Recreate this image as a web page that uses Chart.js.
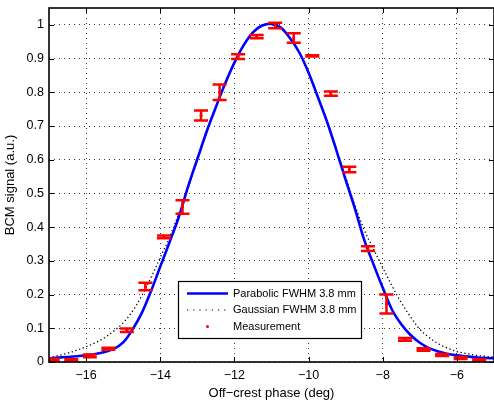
<!DOCTYPE html>
<html><head><meta charset="utf-8">
<style>html,body{margin:0;padding:0;background:#fff}#wrap{width:494px;height:401px;overflow:hidden}</style>
<script src="https://cdn.jsdelivr.net/npm/chart.js@4/dist/chart.umd.min.js"></script>
</head><body><div id="wrap"><canvas id="c" width="494" height="401"></canvas></div>
<script>
// ---- data ----
const curveX = [-17,-16.75,-16.5,-16.25,-16,-15.75,-15.5,-15.25,-15,-14.75,-14.5,-14.25,-14,-13.75,-13.5,-13.25,-13,-12.75,-12.5,-12.25,-12,-11.75,-11.5,-11.25,-11,-10.75,-10.5,-10.25,-10,-9.75,-9.5,-9.25,-9,-8.75,-8.5,-8.25,-8,-7.75,-7.5,-7.25,-7,-6.75,-6.5,-6.25,-6,-5.75,-5.5,-5.25,-5];
const parabolicY = [0.011,0.013,0.015,0.017,0.020,0.024,0.030,0.039,0.058,0.096,0.145,0.210,0.283,0.355,0.430,0.520,0.602,0.683,0.756,0.826,0.888,0.940,0.978,0.998,1.003,0.992,0.960,0.918,0.858,0.786,0.712,0.628,0.540,0.455,0.362,0.290,0.220,0.155,0.112,0.080,0.057,0.041,0.031,0.024,0.020,0.017,0.014,0.012,0.011];
const gaussianY = [0.012,0.019,0.026,0.035,0.045,0.057,0.072,0.092,0.116,0.150,0.196,0.250,0.310,0.370,0.440,0.515,0.598,0.680,0.755,0.826,0.888,0.940,0.978,0.998,1.000,0.990,0.960,0.918,0.858,0.788,0.714,0.632,0.548,0.465,0.392,0.335,0.280,0.226,0.176,0.134,0.097,0.073,0.054,0.041,0.031,0.025,0.020,0.017,0.014];
const measX = [-16.9,-16.4,-15.9,-15.4,-14.9,-14.4,-13.9,-13.4,-12.9,-12.4,-11.9,-11.4,-10.9,-10.4,-9.9,-9.4,-8.9,-8.4,-7.9,-7.4,-6.9,-6.4,-5.9,-5.4];
const measY = [0.007,0.005,0.018,0.039,0.094,0.224,0.371,0.460,0.731,0.800,0.906,0.965,0.998,0.961,0.908,0.796,0.571,0.336,0.172,0.067,0.037,0.021,0.012,0.005];
const measErr = [0.003,0.003,0.004,0.003,0.005,0.011,0.004,0.020,0.015,0.023,0.007,0.005,0.008,0.014,0.002,0.006,0.008,0.007,0.028,0.004,0.004,0.003,0.003,0.003];
const xTicks = [-16,-14,-12,-10,-8,-6];
const yTicks = [0,0.1,0.2,0.3,0.4,0.5,0.6,0.7,0.8,0.9,1];
const seriesLabels = ['Parabolic FWHM 3.8 mm','Gaussian FWHM 3.8 mm','Measurement'];
const xTitle = 'Off\u2212crest phase (deg)';
const yTitle = 'BCM signal (a.u.)';

const FONT = "'Liberation Sans', Arial, Helvetica, sans-serif";

const errorBars = {
  id: 'errorBars',
  afterDatasetsDraw(chart) {
    const ctx = chart.ctx, xs = chart.scales.x, ys = chart.scales.y, ca = chart.chartArea;
    ctx.save();
    ctx.beginPath(); ctx.rect(ca.left, ca.top, ca.right - ca.left, ca.bottom - ca.top); ctx.clip();
    ctx.strokeStyle = '#ff0000'; ctx.lineWidth = 2.5; ctx.lineCap = 'butt';
    const hw = 7;
    measX.forEach((xv, i) => {
      const px = xs.getPixelForValue(xv);
      const yt = ys.getPixelForValue(measY[i] + measErr[i]);
      const yb = ys.getPixelForValue(measY[i] - measErr[i]);
      ctx.beginPath();
      ctx.moveTo(px, yt); ctx.lineTo(px, yb);
      ctx.moveTo(px - hw, yt); ctx.lineTo(px + hw, yt);
      ctx.moveTo(px - hw, yb); ctx.lineTo(px + hw, yb);
      ctx.stroke();
    });
    ctx.restore();
  }
};

const frame = {
  id: 'frame',
  afterDraw(chart) {
    const ctx = chart.ctx, ca = chart.chartArea, xs = chart.scales.x, ys = chart.scales.y;
    ctx.save();
    ctx.strokeStyle = '#000'; ctx.lineWidth = 1.6;
    ctx.strokeRect(ca.left, ca.top, ca.right - ca.left, ca.bottom - ca.top);
    ctx.lineWidth = 1;
    ctx.beginPath();
    xs.ticks.forEach(t => {
      const p = Math.round(xs.getPixelForValue(t.value)) + 0.5;
      ctx.moveTo(p, ca.bottom); ctx.lineTo(p, ca.bottom - 5);
      ctx.moveTo(p, ca.top); ctx.lineTo(p, ca.top + 5);
    });
    ys.ticks.forEach(t => {
      const p = Math.round(ys.getPixelForValue(t.value)) + 0.5;
      ctx.moveTo(ca.left, p); ctx.lineTo(ca.left + 5, p);
      ctx.moveTo(ca.right, p); ctx.lineTo(ca.right - 5, p);
    });
    ctx.stroke();

    // legend box
    const x0 = ca.left + 129, y0 = ca.top + 273, w = 183, h = 57;
    ctx.fillStyle = '#fff'; ctx.fillRect(x0, y0, w, h);
    ctx.strokeStyle = '#000'; ctx.lineWidth = 1.2; ctx.strokeRect(x0 + 0.5, y0 + 0.5, w, h);
    const rows = [y0 + 12.5, y0 + 29, y0 + 45.5];
    const ds = chart.data.datasets;
    ctx.font = '11px ' + FONT; ctx.textBaseline = 'middle'; ctx.textAlign = 'left'; ctx.fillStyle = '#000';
    ctx.save(); ctx.strokeStyle = ds[0].borderColor; ctx.lineWidth = ds[0].borderWidth;
    ctx.beginPath(); ctx.moveTo(x0 + 9, rows[0]); ctx.lineTo(x0 + 50, rows[0]); ctx.stroke(); ctx.restore();
    ctx.save(); ctx.strokeStyle = ds[1].borderColor; ctx.lineWidth = 1.2; ctx.setLineDash([1.2, 5]);
    ctx.beginPath(); ctx.moveTo(x0 + 9, rows[1]); ctx.lineTo(x0 + 50, rows[1]); ctx.stroke(); ctx.restore();
    ctx.save(); ctx.fillStyle = '#ff0000'; ctx.beginPath(); ctx.arc(x0 + 29.5, rows[2], 1.5, 0, Math.PI * 2); ctx.fill(); ctx.restore();
    seriesLabels.forEach((s, i) => ctx.fillText(s, x0 + 55, rows[i]));
    ctx.restore();
  }
};

const toPts = (xa, ya) => xa.map((x, i) => ({x, y: ya[i]}));

new Chart(document.getElementById('c'), {
  type: 'scatter',
  data: {
    datasets: [
      { label: seriesLabels[0], data: toPts(curveX, parabolicY), showLine: true, borderColor: '#0000ff', borderWidth: 2.6, pointRadius: 0, tension: 0.35, order: 2 },
      { label: seriesLabels[1], data: toPts(curveX, gaussianY), showLine: true, borderColor: '#000000', borderWidth: 1.3, borderDash: [1.3, 2.6], pointRadius: 0, tension: 0.35, order: 3 },
      { label: seriesLabels[2], data: toPts(measX, measY), showLine: false, pointRadius: 1.5, pointBackgroundColor: '#ff0000', pointBorderWidth: 0, order: 1 }
    ]
  },
  options: {
    responsive: false, animation: false, devicePixelRatio: 1,
    layout: { autoPadding: false, padding: { left: 0, right: -3, top: 8, bottom: 0 } },
    plugins: { legend: { display: false }, tooltip: { enabled: false } },
    scales: {
      x: {
        type: 'linear', min: -17, max: -5,
        afterBuildTicks: a => { a.ticks = xTicks.map(v => ({value: v})); },
        afterFit: s => { s.height = 39; s.paddingLeft = 0; s.paddingRight = 0; },
        border: { display: false, dash: [1, 4] },
        grid: { color: '#333', lineWidth: 1, drawTicks: false },
        ticks: { color: '#000', padding: 6, font: { family: FONT, size: 12.5 }, callback: v => String(v).replace('-', '\u2212'), maxRotation: 0 },
        title: { display: true, text: xTitle, color: '#000', font: { family: FONT, size: 13 }, padding: { top: 3, bottom: 0 } }
      },
      y: {
        type: 'linear', min: 0, max: 1.05,
        afterBuildTicks: a => { a.ticks = yTicks.map(v => ({value: v})); },
        afterFit: s => { s.width = 49; s.paddingTop = 0; s.paddingBottom = 0; },
        border: { display: false, dash: [1, 4] },
        grid: { color: '#333', lineWidth: 1, drawTicks: false },
        ticks: { color: '#000', padding: 5, font: { family: FONT, size: 12.5 }, callback: v => String(+Number(v).toFixed(2)) },
        title: { display: true, text: yTitle, color: '#000', font: { family: FONT, size: 13 }, padding: { top: 3, bottom: 0 } }
      }
    }
  },
  plugins: [errorBars, frame]
});
</script></body></html>
